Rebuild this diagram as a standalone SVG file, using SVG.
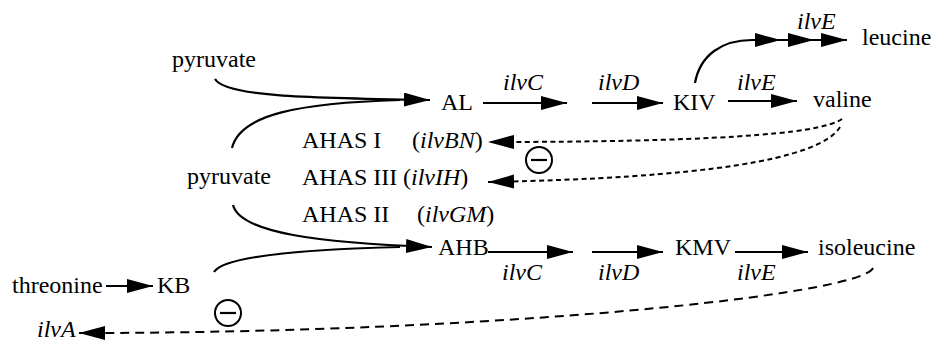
<svg xmlns="http://www.w3.org/2000/svg" width="931" height="343" viewBox="0 0 931 343">
<style>
text{font-size:24px;fill:#000}
.i{font-style:italic}
.ln{fill:none;stroke:#000;stroke-width:2.2}
.dot{fill:none;stroke:#000;stroke-width:2;stroke-dasharray:5 3.5}
.dash{fill:none;stroke:#000;stroke-width:2;stroke-dasharray:9 6}
.inh{fill:#fff;stroke:#000;stroke-width:2}
</style>
<defs>
<marker id="ah" markerUnits="userSpaceOnUse" markerWidth="28" markerHeight="16" refX="26" refY="7" orient="auto">
<path d="M0,0 L26,7 L0,14 z" fill="#000"/>
</marker>
</defs>
<rect width="931" height="343" fill="#fff"/>
<g id="connectors">
<path class="ln" d="M215,79 C225,96 300,98 430,100" marker-end="url(#ah)"/>
<path class="ln" d="M232,148 C240,114 300,103 400,100"/>
<path class="ln" d="M233,205 C240,233 320,243 432,247" marker-end="url(#ah)"/>
<path class="ln" d="M214,272 C225,255 320,249 400,247"/>
<path class="ln" d="M483,103 L567,103" marker-end="url(#ah)"/>
<path class="ln" d="M592,103 L663,103" marker-end="url(#ah)"/>
<path class="ln" d="M728,101 L797,101" marker-end="url(#ah)"/>
<path class="ln" d="M695,83 C700,55 722,40 752,40 L781,40" marker-end="url(#ah)"/>
<path class="ln" d="M781,40 L814,40" marker-end="url(#ah)"/>
<path class="ln" d="M814,40 L847,40" marker-end="url(#ah)"/>
<path class="ln" d="M488,252 L573,252" marker-end="url(#ah)"/>
<path class="ln" d="M592,252 L663,252" marker-end="url(#ah)"/>
<path class="ln" d="M735,252 L808,252" marker-end="url(#ah)"/>
<path class="ln" d="M106,286 L153,286" marker-end="url(#ah)"/>
<path class="dot" d="M842,119 C820,135 700,142 488,142" marker-end="url(#ah)"/>
<path class="dot" d="M840,127 C820,160 700,178 488,182" marker-end="url(#ah)"/>
<path class="dash" d="M873,268 C860,295 500,333 79,333" marker-end="url(#ah)"/>
</g>
<g id="inhibit-1"><circle class="inh" cx="539" cy="160" r="13"/><line x1="531" y1="160" x2="547" y2="160" stroke="#000" stroke-width="2.2"/></g>
<g id="inhibit-2"><circle class="inh" cx="228" cy="313" r="13"/><line x1="220" y1="313" x2="236" y2="313" stroke="#000" stroke-width="2.2"/></g>
<g font-family="Liberation Serif, Times New Roman, serif">
<g id="pyruvate-1"><text x="172" y="67">pyruvate</text></g>
<g id="AL"><text x="441" y="110">AL</text></g>
<g id="ilvC-1"><text class="i" x="503" y="90">ilvC</text></g>
<g id="ilvD-1"><text class="i" x="598" y="90">ilvD</text></g>
<g id="KIV"><text x="673" y="110">KIV</text></g>
<g id="ilvE-1"><text class="i" x="737" y="90">ilvE</text></g>
<g id="valine"><text x="813" y="107">valine</text></g>
<g id="ilvE-top"><text class="i" x="797" y="29">ilvE</text></g>
<g id="leucine"><text x="862" y="45">leucine</text></g>
<g id="AHAS-I"><text x="302" y="148">AHAS I<tspan x="412">(</tspan><tspan class="i">ilvBN</tspan>)</text></g>
<g id="pyruvate-2"><text x="187" y="184">pyruvate</text></g>
<g id="AHAS-III"><text x="302" y="185">AHAS III<tspan x="403">(</tspan><tspan class="i">ilvIH</tspan>)</text></g>
<g id="AHAS-II"><text x="302" y="222">AHAS II<tspan x="417">(</tspan><tspan class="i">ilvGM</tspan>)</text></g>
<g id="AHB"><text x="438" y="255">AHB</text></g>
<g id="ilvC-2"><text class="i" x="502" y="280">ilvC</text></g>
<g id="ilvD-2"><text class="i" x="598" y="280">ilvD</text></g>
<g id="KMV"><text x="675" y="255">KMV</text></g>
<g id="ilvE-2"><text class="i" x="737" y="280">ilvE</text></g>
<g id="isoleucine"><text x="818" y="255">isoleucine</text></g>
<g id="threonine"><text x="12" y="293">threonine</text></g>
<g id="KB"><text x="157" y="293">KB</text></g>
<g id="ilvA"><text class="i" x="37" y="337" font-size="22">ilvA</text></g>
</g>
</svg>
